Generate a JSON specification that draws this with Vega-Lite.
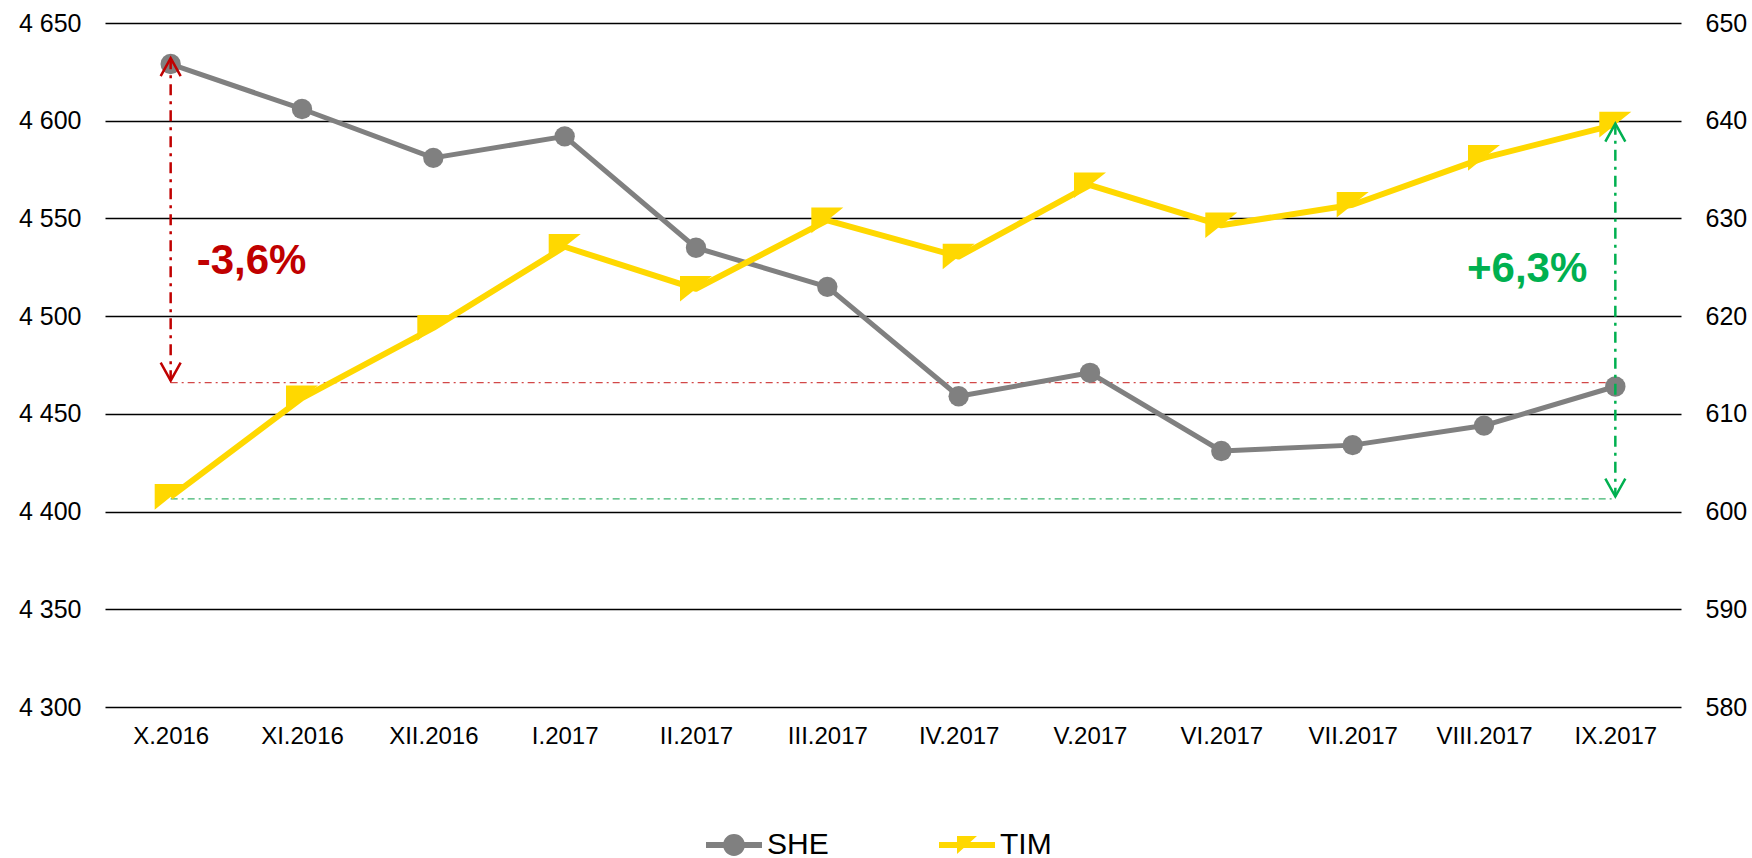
{
  "$schema": "https://vega.github.io/schema/vega-lite/v6.json",
  "autosize": "none",
  "width": 1576,
  "height": 684,
  "padding": {"left": 105, "top": 23, "right": 71, "bottom": 151},
  "background": "#ffffff",
  "config": {
    "view": {"stroke": null},
    "font": "Liberation Sans",
    "axis": {"labelFont": "Liberation Sans", "labelColor": "#000000"},
    "axisX": {"title": null, "labelFontSize": 24, "labelPadding": 17, "ticks": false, "domain": false, "labelAngle": 0, "grid": false},
    "legend": {"labelFont": "Liberation Sans"}
  },
  "datasets": {
    "main": [
      {"month": "X.2016", "SHE": 4629, "TIM": 601.5},
      {"month": "XI.2016", "SHE": 4606, "TIM": 611.6},
      {"month": "XII.2016", "SHE": 4581, "TIM": 618.8},
      {"month": "I.2017", "SHE": 4592, "TIM": 627.1},
      {"month": "II.2017", "SHE": 4535, "TIM": 622.8},
      {"month": "III.2017", "SHE": 4515, "TIM": 629.8},
      {"month": "IV.2017", "SHE": 4459, "TIM": 626.1},
      {"month": "V.2017", "SHE": 4471, "TIM": 633.4},
      {"month": "VI.2017", "SHE": 4431, "TIM": 629.3},
      {"month": "VII.2017", "SHE": 4434, "TIM": 631.4},
      {"month": "VIII.2017", "SHE": 4444, "TIM": 636.2},
      {"month": "IX.2017", "SHE": 4464, "TIM": 639.6}
    ]
  },
  "layer": [
    {
      "encoding": {
        "y": {"type": "quantitative", "scale": {"domain": [4300, 4650], "nice": false, "zero": false},
          "axis": {"title": null, "orient": "left", "values": [4300, 4350, 4400, 4450, 4500, 4550, 4600, 4650], "labelExpr": "replace(format(datum.value, ','), ',', ' ')", "labelFontSize": 25, "labelPadding": 24, "ticks": false, "domain": false, "grid": true, "gridColor": "#000000", "gridWidth": 1.5, "gridOpacity": 1}}
      },
      "layer": [
        {
          "data": {"values": [{"m1": "X.2016", "m2": "IX.2017", "v": 4466}]},
          "mark": {"type": "rule", "color": "#D24848", "strokeWidth": 1.4, "strokeDash": [7, 4, 2, 4]},
          "encoding": {
            "x": {"field": "m1", "type": "nominal", "title": null, "scale": {"type": "point", "padding": 0.5, "domain": ["X.2016","XI.2016","XII.2016","I.2017","II.2017","III.2017","IV.2017","V.2017","VI.2017","VII.2017","VIII.2017","IX.2017"]}},
            "x2": {"field": "m2"},
            "y": {"field": "v"}
          }
        },
        {
          "data": {"name": "main"},
          "mark": {"type": "line", "color": "#808080", "strokeWidth": 5, "strokeJoin": "round"},
          "encoding": {
            "x": {"field": "month", "type": "nominal", "title": null},
            "y": {"field": "SHE"}
          }
        },
        {
          "data": {"name": "main"},
          "mark": {"type": "point", "shape": "circle", "filled": true, "size": 415, "color": "#808080", "opacity": 1},
          "encoding": {
            "x": {"field": "month", "type": "nominal", "title": null},
            "y": {"field": "SHE"}
          }
        },
        {
          "data": {"values": [{"m": "X.2016", "v1": 4632, "v2": 4467}]},
          "mark": {"type": "rule", "color": "#C00000", "strokeWidth": 2.5, "strokeDash": [11, 6, 3, 6]},
          "encoding": {
            "x": {"field": "m", "type": "nominal", "title": null},
            "y": {"field": "v1"},
            "y2": {"field": "v2"}
          }
        },
        {
          "data": {"values": [{"m": "X.2016", "v": 4632}]},
          "mark": {"type": "point", "shape": "M-1,1.8L0,0L1,1.8", "filled": false, "size": 400, "stroke": "#C00000", "strokeWidth": 2.5, "opacity": 1},
          "encoding": {
            "x": {"field": "m", "type": "nominal", "title": null},
            "y": {"field": "v"}
          }
        },
        {
          "data": {"values": [{"m": "X.2016", "v": 4467}]},
          "mark": {"type": "point", "shape": "M-1,-1.8L0,0L1,-1.8", "filled": false, "size": 400, "stroke": "#C00000", "strokeWidth": 2.5, "opacity": 1},
          "encoding": {
            "x": {"field": "m", "type": "nominal", "title": null},
            "y": {"field": "v"}
          }
        },
        {
          "data": {"values": [{"m": "X.2016", "v": 4528, "label": "-3,6%"}]},
          "mark": {"type": "text", "align": "left", "baseline": "middle", "dx": 26, "fontSize": 42, "fontWeight": "bold", "color": "#C00000", "font": "Liberation Sans"},
          "encoding": {
            "x": {"field": "m", "type": "nominal", "title": null},
            "y": {"field": "v"},
            "text": {"field": "label"}
          }
        }
      ]
    },
    {
      "encoding": {
        "y": {"type": "quantitative", "scale": {"domain": [580, 650], "nice": false, "zero": false},
          "axis": {"title": null, "orient": "right", "values": [580, 590, 600, 610, 620, 630, 640, 650], "labelFontSize": 25, "labelPadding": 24, "ticks": false, "domain": false, "grid": false}}
      },
      "layer": [
        {
          "data": {"values": [{"m1": "X.2016", "m2": "IX.2017", "v": 601.3}]},
          "mark": {"type": "rule", "color": "#3CB46E", "strokeWidth": 1.4, "strokeDash": [7, 4, 2, 4]},
          "encoding": {
            "x": {"field": "m1", "type": "nominal", "title": null},
            "x2": {"field": "m2"},
            "y": {"field": "v"}
          }
        },
        {
          "data": {"name": "main"},
          "mark": {"type": "line", "color": "#FFD800", "strokeWidth": 6, "strokeJoin": "round"},
          "encoding": {
            "x": {"field": "month", "type": "nominal", "title": null},
            "y": {"field": "TIM"}
          }
        },
        {
          "data": {"name": "main"},
          "mark": {"type": "point", "shape": "M-1,-0.8H1L-1,0.8Z", "filled": true, "size": 1024, "color": "#FFD800", "opacity": 1},
          "encoding": {
            "x": {"field": "month", "type": "nominal", "title": null},
            "y": {"field": "TIM"}
          }
        },
        {
          "data": {"values": [{"m": "IX.2017", "v1": 639.7, "v2": 601.54}]},
          "mark": {"type": "rule", "color": "#00B050", "strokeWidth": 2.5, "strokeDash": [11, 6, 3, 6]},
          "encoding": {
            "x": {"field": "m", "type": "nominal", "title": null},
            "y": {"field": "v1"},
            "y2": {"field": "v2"}
          }
        },
        {
          "data": {"values": [{"m": "IX.2017", "v": 639.7}]},
          "mark": {"type": "point", "shape": "M-1,1.8L0,0L1,1.8", "filled": false, "size": 400, "stroke": "#00B050", "strokeWidth": 2.5, "opacity": 1},
          "encoding": {
            "x": {"field": "m", "type": "nominal", "title": null},
            "y": {"field": "v"}
          }
        },
        {
          "data": {"values": [{"m": "IX.2017", "v": 601.54}]},
          "mark": {"type": "point", "shape": "M-1,-1.8L0,0L1,-1.8", "filled": false, "size": 400, "stroke": "#00B050", "strokeWidth": 2.5, "opacity": 1},
          "encoding": {
            "x": {"field": "m", "type": "nominal", "title": null},
            "y": {"field": "v"}
          }
        },
        {
          "data": {"values": [{"m": "IX.2017", "v": 624.8, "label": "+6,3%"}]},
          "mark": {"type": "text", "align": "right", "baseline": "middle", "dx": -28, "fontSize": 42, "fontWeight": "bold", "color": "#00B050", "font": "Liberation Sans"},
          "encoding": {
            "x": {"field": "m", "type": "nominal", "title": null},
            "y": {"field": "v"},
            "text": {"field": "label"}
          }
        }
      ]
    },
    {
      "data": {"values": [{"series": "SHE"}, {"series": "TIM"}]},
      "transform": [{"filter": "datum.series == 'none'"}],
      "mark": {"type": "point", "filled": true, "opacity": 1},
      "encoding": {
        "color": {"field": "series", "type": "nominal",
          "scale": {"domain": ["SHE", "TIM"], "range": ["#808080", "#FFD800"]},
          "legend": {"title": null, "orient": "none", "direction": "horizontal", "legendX": 601, "legendY": 794, "padding": 0, "symbolSize": 3136, "symbolStrokeWidth": 0, "labelFontSize": 30, "labelColor": "#000000", "labelOffset": 5, "columnPadding": 110, "labelLimit": 300}},
        "shape": {"field": "series", "type": "nominal",
          "scale": {"domain": ["SHE", "TIM"], "range": ["M-1,-0.107H1V0.107H-1Z M0.39,0A0.39,0.39,0,1,1,-0.39,0A0.39,0.39,0,1,1,0.39,0Z", "M-1,-0.107H1V0.107H-1Z M-0.357,-0.32H0.357L-0.357,0.32Z"]},
          "legend": {"title": null, "orient": "none", "direction": "horizontal", "legendX": 601, "legendY": 794, "padding": 0, "symbolSize": 3136, "symbolStrokeWidth": 0, "labelFontSize": 30, "labelColor": "#000000", "labelOffset": 5, "columnPadding": 110, "labelLimit": 300}}
      }
    }
  ],
  "resolve": {"scale": {"y": "independent"}}
}
